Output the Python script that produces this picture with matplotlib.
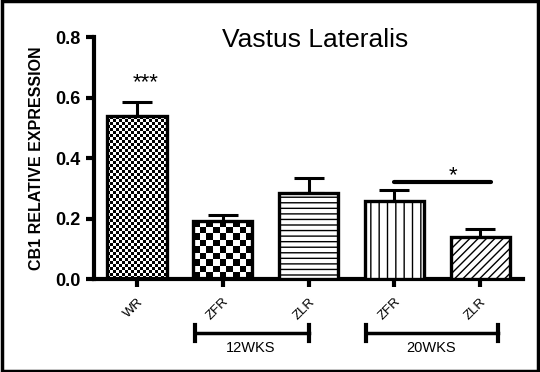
import numpy as np
import matplotlib
matplotlib.use('Agg')
import matplotlib.pyplot as plt
from matplotlib.patches import Rectangle
from matplotlib import transforms

plt.rcParams['font.family'] = ['Liberation Sans', 'DejaVu Sans']
plt.rcParams['hatch.linewidth'] = 1.0

# data
groups = ['WR', 'ZFR', 'ZLR', 'ZFR', 'ZLR']
means = [0.538, 0.192, 0.284, 0.258, 0.139]
sems = [0.047, 0.020, 0.050, 0.036, 0.026]
wk_labels = ['12WKS', '20WKS']

# pattern of each bar: ('checker', cell px) or hatch string
fills = [('checker', 3.0), ('checker', 6.5), '---', '||', '////']

fig = plt.figure(figsize=(5.4, 3.72), dpi=100)
ax = fig.add_axes([0.174, 0.25, 0.795, 0.6505])

x = np.arange(len(means))
W = 0.69
bars = ax.bar(x, means, width=W, color='white', edgecolor='black',
              linewidth=2.4, zorder=3)
ax.errorbar(x, means, yerr=[np.zeros(len(sems)), sems], fmt='none',
            ecolor='black', elinewidth=2.2, capsize=10.5, capthick=2.2, zorder=2)

# px per data unit (for checker cell sizes)
px_x = 0.795 * 540 / 5.0
px_y = 0.6505 * 372 / 0.8
for b, f in zip(bars, fills):
    if isinstance(f, tuple):
        cell = f[1]
        x0, w, h = b.get_x(), b.get_width(), b.get_height()
        nx = max(1, int(round(w * px_x / cell)))
        ny = max(1, int(round(h * px_y / cell)))
        ii, jj = np.indices((ny, nx))
        img = ((ii + jj) % 2).astype(float)
        b.set_facecolor('none')
        im = ax.imshow(img, cmap='gray', vmin=0, vmax=1, extent=[x0, x0 + w, 0, h],
                       aspect='auto', interpolation='nearest', origin='lower', zorder=2.5)
        im.set_clip_path(b)
    else:
        b.set_hatch(f)
ax.set_xlim(-0.5, 4.5)
ax.set_ylim(0, 0.8)

for s in ['top', 'right']:
    ax.spines[s].set_visible(False)
for s in ['left', 'bottom']:
    ax.spines[s].set_linewidth(3)
ax.set_yticks([0.0, 0.2, 0.4, 0.6, 0.8])
ax.set_yticklabels(['0.0', '0.2', '0.4', '0.6', '0.8'], fontsize=13, fontweight='bold')
ax.tick_params(axis='both', length=6, width=3, direction='out')
ax.set_xticks(x)
ax.set_xticklabels(groups, rotation=45, ha='right', rotation_mode='anchor', fontsize=9.5)
ax.tick_params(axis='x', pad=6)
ax.set_ylabel('CB1 RELATIVE EXPRESSION', fontsize=11.5, fontweight='bold', labelpad=8)

fig.text(0.583, 0.893, 'Vastus Lateralis', fontsize=19, ha='center', va='center')

# significance
ax.text(0.1, 0.650, '***', ha='center', va='center', fontsize=16)
ax.plot([3.0, 4.13], [0.32, 0.32], color='black', lw=3, solid_capstyle='round', zorder=4)
ax.text(3.68, 0.342, '*', ha='center', va='center', fontsize=16)

# week brackets
tr = transforms.blended_transform_factory(ax.transData, ax.transAxes)
for (xa, xb, xt), lab in zip([(0.68, 2.0, 1.32), (2.67, 4.21, 3.43)], wk_labels):
    yb = -0.222
    ax.plot([xa, xb], [yb, yb], color='black', lw=2.5, transform=tr, clip_on=False)
    for xe in (xa, xb):
        ax.plot([xe, xe], [yb - 0.033, yb + 0.033], color='black', lw=3,
                transform=tr, clip_on=False)
    ax.text(xt, yb - 0.035, lab, ha='center', va='top', fontsize=10.5,
            transform=tr, clip_on=False)

fig.patches.append(Rectangle((0.003, 0.004), 0.994, 0.992, fill=False, lw=2.5,
                             edgecolor='black', transform=fig.transFigure))

fig.savefig('out.png', dpi=100, facecolor='white')
